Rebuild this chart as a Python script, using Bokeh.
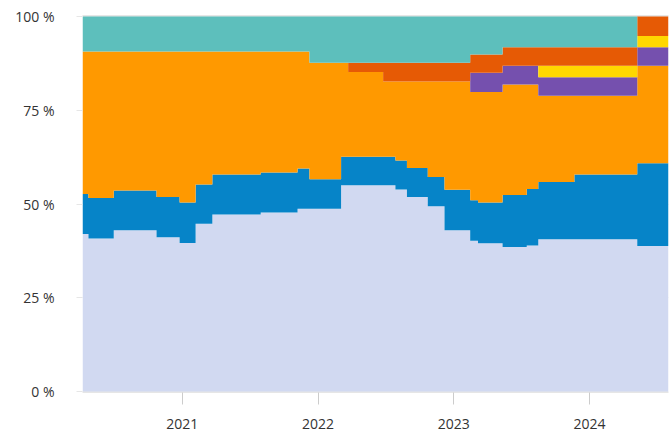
import numpy as np
import pandas as pd
from bokeh.plotting import figure
from bokeh.models import (FixedTicker, PrintfTickFormatter, DatetimeTickFormatter,
                          Range1d, LinearAxis)
from bokeh.embed import file_html
from bokeh.resources import INLINE

# Segment start dates (step chart, value holds until next date)
dates = ["2020-04-08", "2020-04-24", "2020-07-01", "2020-10-24", "2020-12-25",
         "2021-02-06", "2021-03-23", "2021-07-31", "2021-11-07", "2021-12-09",
         "2022-03-04", "2022-03-23", "2022-06-25", "2022-07-28", "2022-08-28",
         "2022-10-23", "2022-12-07", "2023-02-14", "2023-03-07", "2023-05-12",
         "2023-07-16", "2023-08-16", "2023-11-21", "2024-05-08"]
end_date = "2024-07-31"

# Series shares (%), bottom to top
lavender = [42.0, 40.8, 43.0, 41.1, 39.6, 44.7, 47.2, 47.7, 48.7, 48.7, 55.0, 55.0,
            55.0, 53.9, 51.9, 49.4, 43.0, 40.2, 39.5, 38.5, 38.9, 40.6, 40.6, 38.8]
blue = [10.7, 10.8, 10.6, 10.8, 10.8, 10.5, 10.7, 10.7, 10.8, 7.9, 7.6, 7.6,
        7.6, 7.7, 7.7, 7.8, 10.8, 10.8, 10.9, 13.9, 15.1, 15.3, 17.3, 22.1]
orange = [38.0, 39.1, 37.1, 38.8, 40.3, 35.5, 32.8, 32.3, 31.2, 31.1, 25.1, 22.6,
          20.1, 21.1, 23.1, 25.5, 28.9, 28.9, 29.5, 29.5, 27.9, 23.0, 21.0, 26.0]
purple = [0, 0, 0, 0, 0, 0, 0, 0, 0, 0, 0, 0,
          0, 0, 0, 0, 0, 5.1, 5.1, 5.0, 5.0, 4.9, 4.9, 4.9]
yellow = [0, 0, 0, 0, 0, 0, 0, 0, 0, 0, 0, 0,
          0, 0, 0, 0, 0, 0, 0, 0, 0, 3.1, 3.1, 3.0]
dark_orange = [0, 0, 0, 0, 0, 0, 0, 0, 0, 0, 0, 2.5,
               5.0, 5.0, 5.0, 5.0, 5.0, 4.9, 4.9, 4.9, 4.9, 4.9, 4.9, 5.2]
teal = [9.3, 9.3, 9.3, 9.3, 9.3, 9.3, 9.3, 9.3, 9.3, 12.3, 12.3, 12.3,
        12.3, 12.3, 12.3, 12.3, 12.3, 10.1, 10.1, 8.2, 8.2, 8.2, 8.2, 0]

series = [lavender, blue, orange, purple, yellow, dark_orange, teal]
colors = ["#D1D9F1", "#0684C8", "#FF9900", "#7550AE", "#FFD700", "#E65A05", "#5DBFBC"]

year_ticks = ["2021-01-01", "2022-01-01", "2023-01-01", "2024-01-01"]
pct_ticks = [0, 25, 50, 75, 100]

# ---- build step areas (percent stacked) ----
d = pd.to_datetime(dates + [end_date])
vals = np.array(series, dtype=float)
vals = vals / vals.sum(axis=0) * 100.0
cum = np.vstack([np.zeros(vals.shape[1]), np.cumsum(vals, axis=0)])

xs = []
for i in range(len(dates)):
    xs.extend([d[i], d[i + 1]])
xs = pd.to_datetime(xs)

def stepped(row):
    return np.repeat(row, 2)

p = figure(width=669, height=432, x_axis_type="datetime",
           output_backend="svg", toolbar_location=None,
           x_range=Range1d(d[0], d[-1]), y_range=Range1d(-0.27, 100.27),
           min_border_left=82, min_border_right=1, min_border_top=15,
           min_border_bottom=40)

for k in range(len(series)):
    p.varea(x=xs, y1=stepped(cum[k]), y2=stepped(cum[k + 1]),
            fill_color=colors[k], fill_alpha=1.0)

p.outline_line_color = None
p.background_fill_color = "white"
p.border_fill_color = "white"

p.xgrid.grid_line_color = None
p.ygrid.ticker = FixedTicker(ticks=pct_ticks)
p.ygrid.grid_line_color = "#e6e6e6"

yax = p.yaxis[0]
yax.ticker = FixedTicker(ticks=pct_ticks)
yax.formatter = PrintfTickFormatter(format="%d %%")
yax.axis_line_color = None
yax.major_tick_line_color = "#e6e6e6"
yax.major_tick_out = 6
yax.major_tick_in = 0
yax.minor_tick_line_color = None
yax.major_label_standoff = 22
yax.major_label_text_font = "Open Sans"
yax.major_label_text_font_size = "14px"
yax.major_label_text_color = "#333333"

xax = p.xaxis[0]
xax.ticker = FixedTicker(ticks=[pd.Timestamp(t).value // 10**6 for t in year_ticks])
xax.formatter = DatetimeTickFormatter(years="%Y", months="%Y", days="%Y", hours="%Y")
xax.axis_line_color = "#e6e6e6"
xax.major_tick_line_color = "#cccccc"
xax.major_tick_out = 12
xax.major_tick_in = 0
xax.minor_tick_line_color = None
xax.major_label_standoff = 14
xax.major_label_text_font = "Open Sans"
xax.major_label_text_font_size = "14px"
xax.major_label_text_color = "#333333"

# thin top border line (like the 100 % gridline above the areas)
top = LinearAxis(ticker=FixedTicker(ticks=[]), axis_line_color="#e6e6e6",
                 major_tick_line_color=None, minor_tick_line_color=None,
                 major_label_text_font_size="0px", major_label_standoff=0)
p.add_layout(top, "above")

open("out.html", "w").write(file_html(p, INLINE))
